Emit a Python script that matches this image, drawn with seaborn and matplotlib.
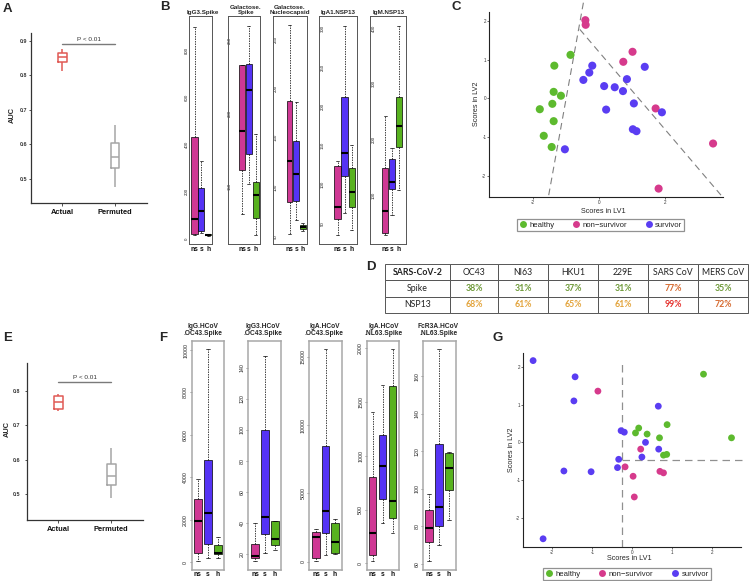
import numpy as np
import pandas as pd
import matplotlib
matplotlib.use("Agg")
import matplotlib.pyplot as plt
import seaborn as sns
from matplotlib.lines import Line2D

# ---------------- data ----------------
AUC_GROUPS = ["Actual", "Permuted"]
A_ACTUAL = [0.812, 0.839, 0.852, 0.863, 0.875]
A_PERMUTED = [0.478, 0.531, 0.565, 0.605, 0.656]
A_PVALUE_Y = 0.89
A_YTICKS = [0.5, 0.6, 0.7, 0.8, 0.9]
E_ACTUAL = [0.743, 0.747, 0.769, 0.786, 0.793]
E_PERMUTED = [0.488, 0.526, 0.553, 0.587, 0.634]
E_PVALUE_Y = 0.827
E_YTICKS = [0.5, 0.6, 0.7, 0.8]
P_TEXT = "P < 0.01"

GROUPS = ["ns", "s", "h"]

B_TITLES = ["IgG3.Spike", "Galactose.\nSpike", "Galactose.\nNucleocapsid", "IgA1.NSP13", "IgM.NSP13"]
# five-number summaries (low whisker, Q1, median, Q3, high whisker)
B_NS = [[17, 20, 86, 434, 900], [131, 161, 188, 233, 233], [52, 85, 126, 188, 265],
        [35, 56, 71, 123, 130], [28, 31, 72, 149, 243]]
B_S = [[24, 35, 120, 217, 332], [151, 172, 216, 234, 260], [66, 86, 113, 147, 186],
       [63, 111, 140, 212, 303], [65, 111, 124, 165, 184]]
B_H = [[15, 16, 18, 20, 21], [116, 128, 144, 153, 186], [55, 57, 59, 61, 63],
       [42, 71, 90, 121, 150], [109, 187, 225, 277, 404]]
B_TICKS = [[0, 200, 400, 600, 800], [150, 200, 250], [50, 100, 150, 200, 250],
           [50, 100, 150, 200, 250, 300], [100, 200, 300, 400]]

F_TITLES = ["IgG.HCoV\n.OC43.Spike", "IgG3.HCoV\n.OC43.Spike", "IgA.HCoV\n.OC43.Spike",
            "IgA.HCoV\n.NL63.Spike", "FcR3A.HCoV\n.NL63.Spike"]
F_NS = [[50, 410, 1934, 2957, 3900], [15.3, 17.6, 18.5, 26.6, 39.9], [50, 290, 1830, 2195, 2370],
        [24, 77, 279, 805, 1410], [61.8, 71.9, 79.4, 89, 97.3]]
F_S = [[175, 850, 2327, 4811, 10030], [20.7, 32.6, 44, 100, 148], [490, 2077, 3731, 8464, 15538],
       [378, 595, 905, 1193, 1658], [70.1, 80.4, 90.6, 124, 174.5]]
F_H = [[175, 363, 440, 800, 1193], [22.5, 26, 30, 41, 41.5], [541, 658, 1463, 2853, 3102],
       [285, 424, 582, 1649, 1990], [83.5, 99.5, 111, 119, 119.5]]
F_TICKS = [[0, 2000, 4000, 6000, 8000, 10000], [20, 40, 60, 80, 100, 120, 140],
           [0, 5000, 10000, 15000], [0, 500, 1000, 1500, 2000], [60, 80, 100, 120, 140, 160]]

LV_GROUPS = ["healthy", "non\u2212survivor", "survivor"]
C_HEALTHY_LV1 = [-0.86, -1.35, -1.37, -1.15, -1.41, -1.79, -1.37, -1.67, -1.43]
C_HEALTHY_LV2 = [1.13, 0.85, 0.17, 0.07, -0.14, -0.28, -0.59, -0.97, -1.26]
C_NONSURV_LV1 = [-0.41, -0.40, 1.02, 0.74, 1.72, 3.46, 1.81]
C_NONSURV_LV2 = [2.03, 1.91, 1.21, 0.95, -0.26, -1.17, -2.34]
C_SURV_LV1 = [-0.20, -0.29, -0.47, 1.39, 0.85, 0.16, 0.48, 0.73, 1.06, 0.22, 1.91, 1.03, 1.14, -1.03]
C_SURV_LV2 = [0.85, 0.67, 0.48, 0.82, 0.50, 0.32, 0.29, 0.19, -0.13, -0.29, -0.36, -0.80, -0.85, -1.32]
C_BOUNDARY_1_LV1 = [-1.52, -0.455]
C_BOUNDARY_1_LV2 = [-2.51, 2.55]
C_BOUNDARY_2_LV1 = [-0.576, 3.70]
C_BOUNDARY_2_LV2 = [1.79, -2.51]
C_XTICKS = [-2, 0, 2]
C_YTICKS = [-2, -1, 0, 1, 2]

G_HEALTHY_LV1 = [1.78, 0.87, 0.16, 0.08, 0.37, 0.68, 2.48, 0.78, 0.86]
G_HEALTHY_LV2 = [1.81, 0.47, 0.38, 0.25, 0.22, 0.12, 0.12, -0.34, -0.32]
G_NONSURV_LV1 = [-0.86, 0.21, -0.18, 0.02, 0.69, 0.78, 0.05]
G_NONSURV_LV2 = [1.36, -0.18, -0.65, -0.90, -0.77, -0.81, -1.45]
G_SURV_LV1 = [-2.48, -1.43, -1.46, 0.65, -0.28, -0.20, 0.33, 0.66, -0.34, -0.37, 0.24, -1.71, -1.03, -2.23]
G_SURV_LV2 = [2.17, 1.74, 1.10, 0.96, 0.31, 0.27, 0.0, -0.18, -0.45, -0.67, -0.39, -0.76, -0.78, -2.56]
G_CUT_LV1 = -0.26
G_CUT_LV2 = -0.48
G_XTICKS = [-2, -1, 0, 1, 2]
G_YTICKS = [-2, -1, 0, 1, 2]

TABLE_HEADER = ["SARS-CoV-2", "OC43", "NI63", "HKU1", "229E", "SARS CoV", "MERS CoV"]
TABLE_ROWS = ["Spike", "NSP13"]
SPIKE_PCT = [38, 31, 37, 31, 77, 35]
NSP13_PCT = [68, 61, 65, 61, 99, 72]

# ---------------- styles ----------------
GROUP_COLORS = ["#CF3894", "#5533F5", "#58B21F"]
LV_COLORS = ["#5DBA2E", "#D63A8C", "#5A3DF2"]
AUC_COLORS = ["#E05A55", "#A6A6A6"]

W, H = 750, 581
sns.set_theme(style="white")
plt.rcParams["font.family"] = ["Liberation Sans", "DejaVu Sans"]
plt.rcParams["axes.unicode_minus"] = True

fig = plt.figure(figsize=(W / 100, H / 100), dpi=100)


def add_ax(l, t, r, b):
    return fig.add_axes([l / W, 1 - b / H, (r - l) / W, (b - t) / H])


def fx(x):
    return x / W


def fy(y):
    return 1 - y / H


def panel_letter(letter, x, y):
    fig.text(fx(x), fy(y), letter, fontsize=9.5, fontweight="bold", ha="center", va="center")


# ---------------- A / E ----------------
def auc_panel(box, actual, perm, p_y, ylim, yticks, label_x, label_y, ytick_pad):
    l, t, r, b = box
    ax = add_ax(l, t, r, b)
    df = pd.DataFrame({"grp": [AUC_GROUPS[0]] * len(actual) + [AUC_GROUPS[1]] * len(perm),
                       "AUC": actual + perm})
    sns.boxplot(data=df, x="grp", y="AUC", hue="grp", order=AUC_GROUPS, hue_order=AUC_GROUPS,
                palette=AUC_COLORS, fill=False, width=0.16, whis=np.inf, linewidth=1.1,
                capprops={"visible": False}, legend=False, ax=ax)
    ax.set_xlim(-0.594, 1.6)
    ax.set_ylim(*ylim)
    ax.set_yticks(yticks)
    ax.set_yticklabels([f"{v:.1f}" for v in yticks], fontsize=3.9, fontweight="bold", color="#333333")
    ax.set_xticks([0, 1])
    ax.set_xticklabels(AUC_GROUPS, fontsize=5.4, fontweight="bold", color="#111111")
    ax.tick_params(axis="y", length=1.5, width=0.6, pad=ytick_pad, color="#333333", left=True)
    ax.tick_params(axis="x", length=1.8, width=0.6, pad=2.2, color="#333333", bottom=True)
    for s in ["top", "right"]:
        ax.spines[s].set_visible(False)
    for s in ["left", "bottom"]:
        ax.spines[s].set_color("#333333")
        ax.spines[s].set_linewidth(0.9)
    ax.set_xlabel("")
    ax.set_ylabel("AUC", fontsize=5.3, fontweight="bold", va="center")
    ax.yaxis.set_label_coords(fx(label_x), fy(label_y), transform=fig.transFigure)
    ax.plot([0, 1], [p_y, p_y], color="#7a7a7a", lw=1.0, clip_on=False)
    ax.annotate(P_TEXT, xy=(0.5, p_y), xytext=(0, 1.2), textcoords="offset points",
                ha="center", va="bottom", fontsize=4.6, color="#333333")
    return ax


auc_panel((31, 33, 146.7, 203), A_ACTUAL, A_PERMUTED, A_PVALUE_Y, (0.431, 0.922), A_YTICKS,
          12.7, 115, 1.0)
auc_panel((27, 363, 143, 520), E_ACTUAL, E_PERMUTED, E_PVALUE_Y, (0.424, 0.882), E_YTICKS,
          7.0, 429, 3.2)
panel_letter("A", 7.5, 8.5)
panel_letter("E", 7.5, 338)


# ---------------- B / F ----------------
def box_frame(l, r, t, b, xlim, ylim, ns, s, h, ticks, width, frame_color, frame_lw,
              tick_fs, tick_pad, tick_len, xlab_pad):
    ax = add_ax(l, t, r, b)
    df = pd.DataFrame({"grp": np.repeat(GROUPS, [len(ns), len(s), len(h)]),
                       "val": list(ns) + list(s) + list(h)})
    sns.boxplot(data=df, x="grp", y="val", hue="grp", order=GROUPS, hue_order=GROUPS,
                palette=GROUP_COLORS, whis=np.inf, width=width, linecolor="black", linewidth=0.5,
                saturation=1,
                medianprops={"linewidth": 1.5, "color": "black"},
                whiskerprops={"linestyle": (0, (2.2, 1.4)), "linewidth": 0.5},
                capprops={"linewidth": 0.5},
                legend=False, ax=ax)
    ax.set_xlim(*xlim)
    ax.set_ylim(*ylim)
    ax.set_yticks(ticks)
    ax.set_yticklabels([str(v) for v in ticks], rotation=90, va="center", fontsize=tick_fs,
                       color="#222222")
    ax.tick_params(axis="y", length=tick_len, width=0.4, pad=tick_pad, left=True,
                   direction="out" if tick_pad >= 0 else "in", color="#444444")
    ax.set_xticks([0, 1, 2])
    ax.set_xticklabels(GROUPS, fontsize=4.8, fontweight="bold", color="#111111")
    ax.tick_params(axis="x", length=0, pad=xlab_pad)
    for sp in ax.spines.values():
        sp.set_visible(True)
        sp.set_color(frame_color)
        sp.set_linewidth(frame_lw)
    ax.set_xlabel("")
    ax.set_ylabel("")
    return ax


B_TOP, B_BOTTOM = 16, 244
B_LAYOUT = [  # left, right, xlim, ylim, tick pad (pt), title x
    (189.3, 212.3, (-0.754, 2.58), (-21, 945), 0.4, 203.3),
    (227.7, 260.3, (-2.09, 2.67), (110, 267), -3.0, 245.7),
    (273.3, 306.7, (-2.44, 2.59), (42, 274), -3.3, 290.0),
    (319.3, 356.7, (-2.56, 2.70), (23.5, 316), -4.2, 338.3),
    (370.0, 405.7, (-2.19, 2.99), (12, 422), -4.2, 388.3),
]
for i, (l, r, xl, yl, pad, tx) in enumerate(B_LAYOUT):
    box_frame(l, r, B_TOP, B_BOTTOM, xl, yl, B_NS[i], B_S[i], B_H[i], B_TICKS[i], 0.88,
              "#555555", 0.7, 3.2, pad, 0, 1.2)
    fig.text(fx(tx), fy(B_TOP - 1.2), B_TITLES[i], fontsize=4.5, fontweight="bold",
             ha="center", va="bottom", linespacing=1.0)
panel_letter("B", 164.5, 7.5)

F_TOP, F_BOTTOM = 341, 570
F_LAYOUT = [
    (191.7, 224.3, (-0.61, 2.65), (-377, 10425), 202.7),
    (248.3, 281.0, (-0.67, 2.60), (9.7, 157.4), 262.7),
    (309.0, 342.3, (-0.74, 2.77), (-607, 16145), 324.3),
    (366.7, 399.3, (-0.58, 2.68), (-62, 2068), 384.0),
    (423.3, 456.0, (-0.57, 2.70), (56.8, 178.9), 438.3),
]
for i, (l, r, xl, yl, tx) in enumerate(F_LAYOUT):
    box_frame(l, r, F_TOP, F_BOTTOM, xl, yl, F_NS[i], F_S[i], F_H[i], F_TICKS[i], 0.78,
              "#A8A8A8", 1.1, 3.8, 1.2, 1.4, 1.0)
    fig.text(fx(tx), fy(F_TOP - 4), F_TITLES[i], fontsize=4.8, fontweight="bold",
             ha="center", va="bottom", linespacing=1.05)
panel_letter("F", 163, 338)


# ---------------- C / G ----------------
def lv_frame(lv1s, lv2s):
    rows = []
    for g, xs, ys in zip(LV_GROUPS, lv1s, lv2s):
        for x, y in zip(xs, ys):
            rows.append((g, x, y))
    return pd.DataFrame(rows, columns=["group", "LV1", "LV2"])


def lv_panel(box, df, xlim, ylim, xticks, yticks, size, xlabel_y, ylabel_x, legend_center):
    l, t, r, b = box
    ax = add_ax(l, t, r, b)
    sns.scatterplot(data=df, x="LV1", y="LV2", hue="group", hue_order=LV_GROUPS,
                    palette=LV_COLORS, s=size, edgecolor="none", linewidth=0, legend=False,
                    ax=ax, zorder=3)
    ax.set_xlim(*xlim)
    ax.set_ylim(*ylim)
    ax.set_xticks(xticks)
    ax.set_yticks(yticks)
    ax.set_xticklabels([str(v) for v in xticks], fontsize=3.3, color="#333333")
    ax.set_yticklabels([str(v) for v in yticks], fontsize=3.3, color="#333333")
    ax.tick_params(length=1.5, width=0.5, pad=0.6, color="#333333", left=True, bottom=True)
    for s in ["top", "right"]:
        ax.spines[s].set_visible(False)
    for s in ["left", "bottom"]:
        ax.spines[s].set_color("#222222")
        ax.spines[s].set_linewidth(0.8)
    ax.set_xlabel("Scores in LV1", fontsize=5.2, va="center")
    ax.set_ylabel("Scores in LV2", fontsize=5.2, va="center")
    ax.xaxis.set_label_coords(fx((l + r) / 2 - 3), fy(xlabel_y), transform=fig.transFigure)
    ax.yaxis.set_label_coords(fx(ylabel_x), fy((t + b) / 2), transform=fig.transFigure)
    handles = [Line2D([], [], marker="o", ls="", markersize=5, markerfacecolor=c,
                      markeredgecolor="none") for c in LV_COLORS]
    leg = fig.legend(handles, LV_GROUPS, loc="center",
                     bbox_to_anchor=(fx(legend_center[0]), fy(legend_center[1])),
                     ncol=3, frameon=True, fontsize=5.6, handletextpad=0.3,
                     columnspacing=2.3, borderpad=0.3, handlelength=1.0, fancybox=False)
    leg.get_frame().set_edgecolor("#777777")
    leg.get_frame().set_linewidth(0.9)
    return ax


dfC = lv_frame([C_HEALTHY_LV1, C_NONSURV_LV1, C_SURV_LV1], [C_HEALTHY_LV2, C_NONSURV_LV2, C_SURV_LV2])
axC = lv_panel((489.3, 11.7, 723.3, 196.7), dfC, (-3.32, 3.77), (-2.55, 2.25), C_XTICKS, C_YTICKS,
               34, 211.5, 476.7, (600.5, 225.3))
axC.plot(C_BOUNDARY_1_LV1, C_BOUNDARY_1_LV2, ls=(0, (6, 4)), color="#808080", lw=0.8, clip_on=False, zorder=2)
axC.plot(C_BOUNDARY_2_LV1, C_BOUNDARY_2_LV2, ls=(0, (6, 4)), color="#808080", lw=0.8, clip_on=False, zorder=2)
panel_letter("C", 456.7, 7.5)

dfG = lv_frame([G_HEALTHY_LV1, G_NONSURV_LV1, G_SURV_LV1], [G_HEALTHY_LV2, G_NONSURV_LV2, G_SURV_LV2])
axG = lv_panel((523.3, 352.7, 740.7, 546.7), dfG, (-2.725, 2.71), (-2.77, 2.38), G_XTICKS, G_YTICKS,
               24, 558.5, 511.7, (627, 574))
axG.plot([G_CUT_LV1, G_CUT_LV1], [-2.77, 2.14], ls=(0, (6, 4)), color="#909090", lw=0.9, zorder=2)
axG.plot([G_CUT_LV1, 2.86], [G_CUT_LV2, G_CUT_LV2], ls=(0, (6, 4)), color="#909090", lw=0.9,
         clip_on=False, zorder=2)
panel_letter("G", 498, 338)


# ---------------- D (table) ----------------
def pct_color(v):
    if v < 50:
        return "#6F9A3A"
    if v < 70:
        return "#E3A43C"
    if v < 90:
        return "#D5692F"
    return "#E5302C"


axD = add_ax(385, 264, 748, 313)
axD.axis("off")
cell_text = [TABLE_HEADER,
             [TABLE_ROWS[0]] + [f"{v}%" for v in SPIKE_PCT],
             [TABLE_ROWS[1]] + [f"{v}%" for v in NSP13_PCT]]
col_w = [65, 48, 50, 50, 50, 50, 50]
tot = sum(col_w)
tbl = axD.table(cellText=cell_text, cellLoc="center", bbox=[0, 0, 1, 1],
                colWidths=[c / tot for c in col_w])
tbl.auto_set_font_size(False)
for (ri, ci), cell in tbl.get_celld().items():
    cell.set_edgecolor("#555555")
    cell.set_linewidth(0.7)
    txt = cell.get_text()
    txt.set_fontsize(6.3)
    txt.set_fontfamily(["Lato", "DejaVu Sans"])
    txt.set_color("#222222")
    if ri == 0 and ci == 0:
        txt.set_fontweight("bold")
    if ri > 0 and ci > 0:
        vals = SPIKE_PCT if ri == 1 else NSP13_PCT
        txt.set_color(pct_color(vals[ci - 1]))
        txt.set_fontweight("bold")
panel_letter("D", 371, 267)

fig.savefig("out.png", dpi=100)
